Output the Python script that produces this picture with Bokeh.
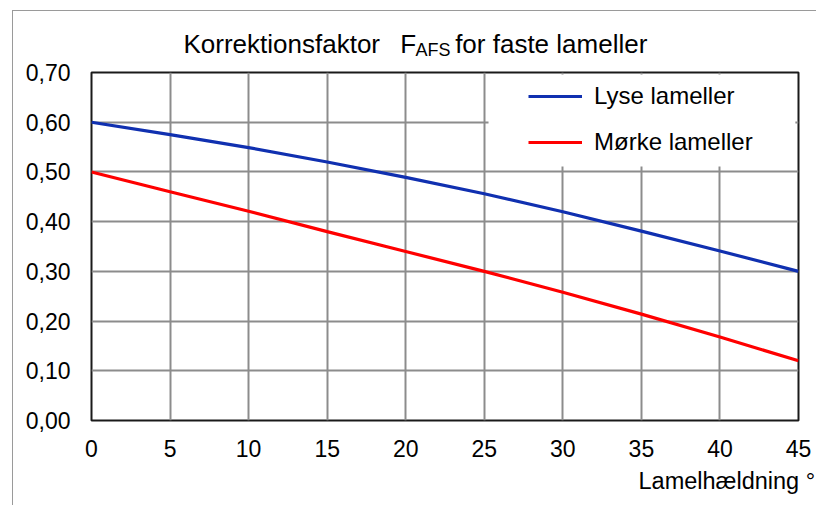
from bokeh.plotting import figure
from bokeh.models import Range1d, FixedTicker, Legend, LegendItem, Label, BoxAnnotation
from bokeh.embed import file_html
from bokeh.resources import INLINE

# ---- data ----
angles = [0, 5, 10, 15, 20, 25, 30, 35, 40, 45]
lyse = [0.600, 0.575, 0.549, 0.520, 0.489, 0.456, 0.420, 0.381, 0.341, 0.300]
morke = [0.500, 0.460, 0.421, 0.380, 0.340, 0.300, 0.258, 0.214, 0.168, 0.120]
series_names = ["Lyse lameller", "Mørke lameller"]
x_ticks = [0, 5, 10, 15, 20, 25, 30, 35, 40, 45]
y_ticks = [0.0, 0.1, 0.2, 0.3, 0.4, 0.5, 0.6, 0.7]
y_tick_labels = ["0,00", "0,10", "0,20", "0,30", "0,40", "0,50", "0,60", "0,70"]
title_main = "Korrektionsfaktor \u2002F\u2003\u2002for faste lameller"
title_sub = "AFS"
x_title = "Lamelhældning °"

FONT = "Liberation Sans"
W, H = 816, 505

p = figure(width=W, height=H, output_backend="svg", toolbar_location=None,
           x_range=Range1d(0, 45), y_range=Range1d(0, 0.7),
           min_border_left=91, min_border_right=W - 798, min_border_top=72,
           min_border_bottom=H - 420)
p.background_fill_color = "white"
p.border_fill_color = "white"
p.outline_line_color = "#1a1a1a"
p.outline_line_width = 2
p.stylesheets = [""":host::after {
  content: ""; position: absolute; left: 12px; top: 10px;
  width: calc(100% - 12px); height: calc(100% - 10px);
  border-left: 1.5px solid #9a9a9a; border-top: 1.5px solid #9a9a9a;
  box-sizing: border-box; pointer-events: none; }"""]

for ax in (p.xaxis[0], p.yaxis[0]):
    ax.axis_line_color = None
    ax.major_tick_line_color = None
    ax.minor_tick_line_color = None
    ax.major_tick_out = 0
    ax.major_tick_in = 0
    ax.major_label_text_font = FONT
    ax.major_label_text_font_size = "23px"
    ax.major_label_text_color = "black"

p.xaxis.ticker = FixedTicker(ticks=x_ticks)
p.yaxis.ticker = FixedTicker(ticks=y_ticks)
p.yaxis.major_label_overrides = {t: s for t, s in zip(y_ticks, y_tick_labels)}
p.yaxis.major_label_standoff = 21
p.xaxis.major_label_standoff = 19

p.xgrid.ticker = FixedTicker(ticks=x_ticks)
p.ygrid.ticker = FixedTicker(ticks=y_ticks)
for g in (p.xgrid[0], p.ygrid[0]):
    g.grid_line_color = "#8c8c8c"
    g.grid_line_width = 2

r_lyse = p.line(angles, lyse, line_color="#1030b0", line_width=3.2)
r_morke = p.line(angles, morke, line_color="#ff0000", line_width=3.2)

# white legend background covering the grid
p.add_layout(BoxAnnotation(left=25.27, right=44.8, bottom=0.511, top=0.696,
                           fill_color="white", fill_alpha=1.0, line_color=None))

legend = Legend(items=[LegendItem(label=series_names[0], renderers=[r_lyse]),
                       LegendItem(label=series_names[1], renderers=[r_morke])],
                location=(437, 263), padding=0, spacing=16,
                glyph_width=54, glyph_height=30, label_height=30, label_standoff=12,
                label_text_font=FONT, label_text_font_size="24px",
                label_text_color="black",
                background_fill_alpha=0, border_line_color=None)
p.add_layout(legend)

def lab(text, px, py, size, place):
    p.add_layout(Label(x=px, y=py, x_units="canvas", y_units="canvas",
                       text=text, text_font=FONT, text_font_size=size,
                       text_baseline="alphabetic", text_align="left", text_color="black"),
                 place)

lab(title_main, 183, 43, "26px", "above")
lab(title_sub, 415, 49, "18px", "above")
lab(x_title, 638, 480, "23.5px", "below")

open("out.html", "w").write(file_html(p, INLINE))
